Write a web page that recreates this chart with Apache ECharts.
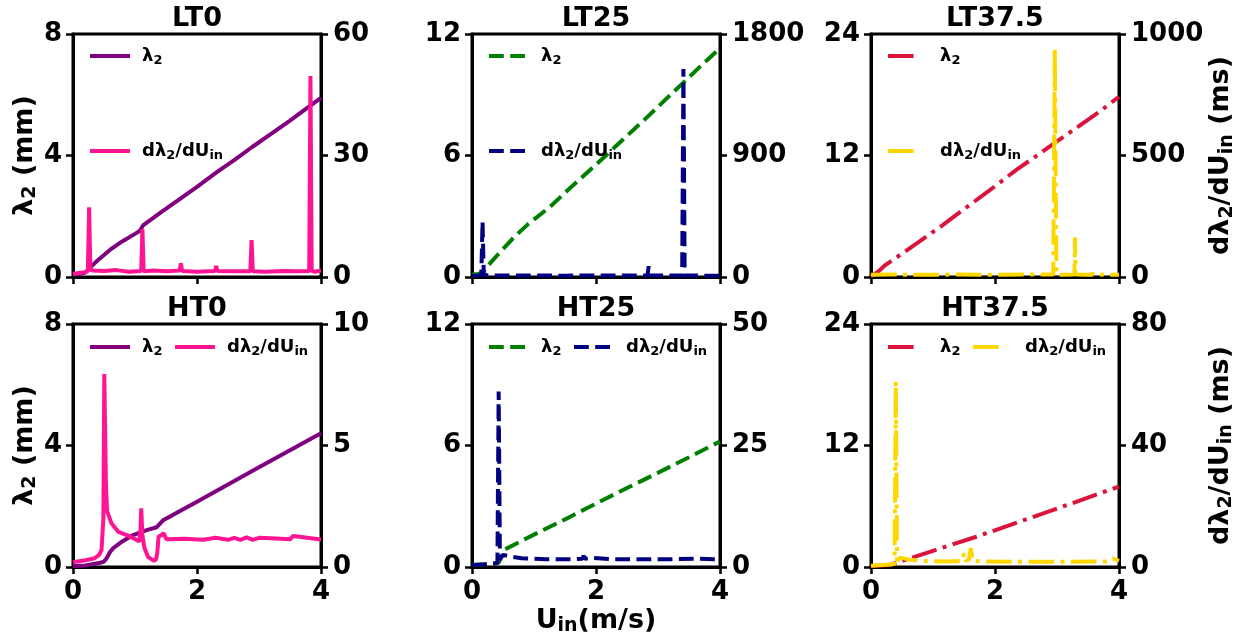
<!DOCTYPE html>
<html>
<head>
<meta charset="utf-8">
<script src="https://cdn.jsdelivr.net/npm/echarts@6/dist/echarts.min.js"></script>
<style>
html,body{margin:0;padding:0;background:#fff;}
#main{width:1247px;height:641px;}
</style>
</head>
<body>
<div id="main"></div>
<script>
// ---------------- DATA ----------------
const panelTitles = ['LT0', 'LT25', 'LT37.5', 'HT0', 'HT25', 'HT37.5'];
const xTicks = [0, 2, 4];
const leftMax = [8, 12, 24, 8, 12, 24];
const rightMax = [60, 1800, 1000, 10, 50, 80];

// LT0
const lt0LamX = [0, 0.1, 0.2, 0.27, 0.4, 0.6, 0.8, 1.0, 1.08, 1.13, 1.4, 1.76, 2.0, 2.32, 2.6, 2.89, 3.2, 3.5, 3.8, 4.0];
const lt0LamY = [0.08, 0.1, 0.15, 0.3, 0.55, 0.9, 1.18, 1.42, 1.52, 1.7, 2.1, 2.62, 2.97, 3.45, 3.85, 4.28, 4.72, 5.15, 5.6, 5.9];
const lt0DerX = [0, 0.1, 0.2, 0.24, 0.26, 0.28, 0.32, 0.5, 0.7, 0.9, 1.1, 1.12, 1.14, 1.3, 1.5, 1.72, 1.74, 1.76, 2.0, 2.29, 2.31, 2.33, 2.6, 2.86, 2.88, 2.9, 3.1, 3.4, 3.6, 3.81, 3.83, 3.85, 3.9, 4.0];
const lt0DerY = [0.8, 1.0, 1.2, 1.5, 17.2, 1.8, 1.6, 1.5, 1.7, 1.3, 1.5, 11.8, 1.4, 1.6, 1.4, 1.6, 3.4, 1.5, 1.3, 1.5, 2.7, 1.5, 1.4, 1.4, 9.1, 1.4, 1.3, 1.5, 1.4, 1.5, 49.6, 1.5, 1.3, 1.6];

// LT25
const lt25LamX = [0, 0.1, 0.17, 0.24, 0.4, 0.66, 0.9, 1.26, 1.6, 2.0, 2.44, 2.8, 3.1, 3.41, 3.7, 4.0];
const lt25LamY = [0.12, 0.15, 0.2, 0.5, 1.05, 1.91, 2.6, 3.47, 4.45, 5.55, 6.8, 7.82, 8.7, 9.6, 10.45, 11.3];
const lt25DerX = [0, 0.1, 0.15, 0.17, 0.19, 0.3, 0.8, 1.5, 2.2, 2.83, 2.85, 2.87, 3.1, 3.39, 3.41, 3.43, 3.7, 4.0];
const lt25DerY = [10, 12, 14, 410, 14, 12, 11, 10, 11, 12, 80, 12, 11, 11, 1540, 11, 10, 10];

// LT37.5
const lt375LamX = [0, 0.05, 0.12, 0.23, 0.5, 0.8, 1.14, 1.5, 1.9, 2.36, 2.7, 3.0, 3.33, 3.7, 4.0];
const lt375LamY = [0.1, 0.25, 0.55, 1.18, 2.3, 3.6, 5.05, 6.7, 8.5, 10.65, 12.1, 13.4, 14.8, 16.4, 17.8];
const lt375DerX = [0, 0.3, 0.8, 1.4, 2.0, 2.5, 2.94, 2.965, 2.99, 3.1, 3.28, 3.29, 3.3, 3.45, 3.56, 3.57, 3.58, 3.8, 4.0];
const lt375DerY = [9, 10, 9, 10, 9, 10, 10, 937, 10, 9, 10, 163, 10, 9, 9, 18, 9, 10, 9];

// HT0
const ht0LamX = [0, 0.2, 0.44, 0.5, 0.53, 0.6, 0.65, 0.8, 0.97, 1.1, 1.2, 1.35, 1.4, 1.46, 1.6, 2.0, 2.5, 3.0, 3.5, 4.0];
const ht0LamY = [0.03, 0.05, 0.14, 0.18, 0.25, 0.5, 0.62, 0.85, 1.05, 1.15, 1.22, 1.31, 1.42, 1.55, 1.7, 2.15, 2.72, 3.28, 3.84, 4.4];
const ht0DerX = [0, 0.2, 0.35, 0.42, 0.46, 0.49, 0.505, 0.53, 0.55, 0.58, 0.62, 0.73, 0.89, 1.03, 1.07, 1.09, 1.1, 1.12, 1.15, 1.21, 1.3, 1.34, 1.36, 1.38, 1.42, 1.46, 1.51, 1.8, 2.1, 2.3, 2.5, 2.6, 2.7, 2.8, 2.9, 3.0, 3.2, 3.5, 3.55, 4.0];
const ht0DerY = [0.2, 0.28, 0.36, 0.5, 0.7, 2.0, 7.94, 3.5, 2.3, 2.35, 1.8, 1.45, 1.29, 1.11, 1.05, 1.6, 2.41, 1.3, 0.8, 0.42, 0.26, 0.3, 0.6, 1.25, 1.3, 1.39, 1.14, 1.16, 1.12, 1.2, 1.12, 1.2, 1.12, 1.22, 1.12, 1.2, 1.18, 1.14, 1.28, 1.13];

// HT25
const ht25LamX = [0, 0.3, 0.43, 0.51, 1.0, 1.5, 1.85, 2.5, 3.0, 3.5, 4.0];
const ht25LamY = [0.1, 0.15, 0.21, 0.84, 1.6, 2.35, 2.9, 3.9, 4.65, 5.42, 6.2];
const ht25DerX = [0, 0.3, 0.41, 0.43, 0.45, 0.5, 0.53, 0.6, 0.8, 1.2, 1.6, 1.78, 1.8, 1.82, 1.9, 2.3, 2.8, 3.2, 3.6, 3.9, 4.0];
const ht25DerY = [0.4, 0.6, 0.8, 36.1, 1.5, 2.5, 2.8, 2.2, 1.8, 1.6, 1.6, 1.7, 2.3, 1.7, 1.9, 1.6, 1.6, 1.6, 1.7, 1.6, 1.6];

// HT37.5
const ht375LamX = [0, 0.3, 0.42, 1.0, 1.7, 2.5, 3.2, 4.0];
const ht375LamY = [0.1, 0.2, 0.43, 1.6, 2.99, 4.7, 6.2, 7.95];
const ht375DerX = [0, 0.3, 0.38, 0.4, 0.42, 0.47, 0.6, 0.8, 1.2, 1.47, 1.5, 1.53, 1.58, 1.61, 1.64, 1.8, 2.5, 3.2, 3.8, 3.9, 4.0];
const ht375DerY = [0.4, 0.8, 1.0, 61, 2.0, 3.1, 2.5, 2.0, 1.8, 2.0, 4.5, 2.0, 2.5, 6.2, 2.0, 1.8, 1.7, 1.7, 1.8, 2.8, 2.0];

// ---------------- STYLE / BUILD ----------------
const F = 'DejaVu Sans';
const lamColors = ['#800080', '#008000', '#DC143C', '#800080', '#008000', '#DC143C'];
const derColors = ['#FF1493', '#000080', '#FFD700', '#FF1493', '#000080', '#FFD700'];
const DASH = [14.8, 6.4];
const DASHDOT = [25.6, 6.4, 4, 6.4];
const styles = ['solid', DASH, DASHDOT, 'solid', DASH, DASHDOT];

const lamX = [lt0LamX, lt25LamX, lt375LamX, ht0LamX, ht25LamX, ht375LamX];
const lamY = [lt0LamY, lt25LamY, lt375LamY, ht0LamY, ht25LamY, ht375LamY];
const derX = [lt0DerX, lt25DerX, lt375DerX, ht0DerX, ht25DerX, ht375DerX];
const derY = [lt0DerY, lt25DerY, lt375DerY, ht0DerY, ht25DerY, ht375DerY];

const gridLefts = [73, 472, 871];
const gridTops = [34, 324];
const GW = 248, GH = 243;

const tickFont = {fontSize: 26, fontWeight: 'bold', fontFamily: F, color: '#000'};
const zip = (xs, ys) => xs.map((x, i) => [x, ys[i]]);
const nameRich = {
  m: {fontSize: 27, fontWeight: 'bold', fontFamily: F, color: '#000'},
  s: {fontSize: 19, fontWeight: 'bold', fontFamily: F, color: '#000', padding: [12, 0, 0, 0]}
};

const grid = [], xAxis = [], yAxis = [], series = [], title = [], legend = [];
const legendText = {};

const legRich = {
  a: {fontSize: 18, fontWeight: 'bold', fontFamily: F, color: '#000'},
  s: {fontSize: 13, fontWeight: 'bold', fontFamily: F, color: '#000', padding: [9, 0, 0, 0]}
};
function richFor(pad) {
  return Object.assign({}, legRich, {
    a0: {fontSize: 18, fontWeight: 'bold', fontFamily: F, color: '#000', padding: [0, 0, 0, pad]}
  });
}

for (let i = 0; i < 6; i++) {
  const row = Math.floor(i / 3), col = i % 3;
  const left = gridLefts[col], top = gridTops[row];
  grid.push({left: left, top: top, width: GW, height: GH, show: true, borderColor: '#000', borderWidth: 3, backgroundColor: 'transparent'});
  const xa = {
    gridIndex: i, type: 'value', min: 0, max: 4, interval: 2,
    axisLine: {show: true, onZero: false, lineStyle: {color: '#000', width: 3}},
    axisTick: {show: true, length: 7, lineStyle: {color: '#000', width: 2.5}},
    axisLabel: Object.assign({show: row === 1, margin: 12, showMinLabel: true, showMaxLabel: true, formatter: (v) => String(v)}, tickFont),
    splitLine: {show: false}
  };
  if (i === 4) {
    xa.name = '{m|U}{s|in}{m|(m/s)}';
    xa.nameLocation = 'middle';
    xa.nameGap = 38;
    xa.nameTextStyle = {rich: nameRich};
  }
  xAxis.push(xa);
  const yl = {
    gridIndex: i, type: 'value', position: 'left', min: 0, max: leftMax[i], interval: leftMax[i] / 2,
    axisLine: {show: true, onZero: false, lineStyle: {color: '#000', width: 3}},
    axisTick: {show: true, length: 7, lineStyle: {color: '#000', width: 2.5}},
    axisLabel: Object.assign({margin: 11, showMinLabel: true, showMaxLabel: true, formatter: (v) => String(v)}, tickFont),
    splitLine: {show: false}
  };
  if (col === 0) {
    yl.name = '{m|λ}{s|2}{m| (mm)}';
    yl.nameLocation = 'middle';
    yl.nameRotate = 90;
    yl.nameGap = 33;
    yl.nameTextStyle = {rich: nameRich};
  }
  const yr = {
    gridIndex: i, type: 'value', position: 'right', min: 0, max: rightMax[i], interval: rightMax[i] / 2,
    axisLine: {show: true, onZero: false, lineStyle: {color: '#000', width: 3}},
    axisTick: {show: true, length: 7, lineStyle: {color: '#000', width: 2.5}},
    axisLabel: Object.assign({margin: 12, showMinLabel: true, showMaxLabel: true, formatter: (v) => String(v)}, tickFont),
    splitLine: {show: false}
  };
  if (col === 2) {
    yr.name = '{m|dλ}{s|2}{m|/dU}{s|in}{m| (ms)}';
    yr.nameLocation = 'middle';
    yr.nameRotate = 90;
    yr.nameGap = 86;
    yr.nameTextStyle = {rich: nameRich};
  }
  yAxis.push(yl, yr);

  const nLam = panelTitles[i] + ' lam';
  const nDer = panelTitles[i] + ' der';
  legendText[nLam] = '{a0|λ}{s|2}';
  legendText[nDer] = '{a0|dλ}{s|2}{a|/dU}{s|in}';
  series.push({
    name: nLam, type: 'line', xAxisIndex: i, yAxisIndex: 2 * i,
    data: zip(lamX[i], lamY[i]), symbol: 'none', showSymbol: false,
    lineStyle: {color: lamColors[i], width: 4, type: styles[i]}, itemStyle: {color: lamColors[i]},
    animation: false
  });
  series.push({
    name: nDer, type: 'line', xAxisIndex: i, yAxisIndex: 2 * i + 1,
    data: zip(derX[i], derY[i]), symbol: 'none', showSymbol: false,
    lineStyle: {color: derColors[i], width: 4, type: styles[i]}, itemStyle: {color: derColors[i]},
    animation: false
  });

  title.push({
    text: panelTitles[i], left: left + GW / 2, top: top - 29, textAlign: 'center', padding: 0,
    textStyle: {fontSize: 27, fontWeight: 'bold', fontFamily: F, color: '#000'}
  });

  const iw = (styles[i] === DASHDOT) ? 28 : 40;
  const pad = 52 - iw - 5;
  const legBase = {
    orient: 'horizontal', itemWidth: iw, itemHeight: 14, padding: 0, selectedMode: false,
    formatter: (n) => legendText[n],
    itemStyle: {opacity: 0, borderWidth: 0},
    lineStyle: {width: 4, type: styles[i]},
    textStyle: {fontSize: 18, fontWeight: 'bold', fontFamily: F, color: '#000', rich: richFor(pad)}
  };
  const lx = left + 15;
  if (row === 0) {
    legend.push(Object.assign({}, legBase, {data: [nLam], left: lx, top: 58 - 11}));
    legend.push(Object.assign({}, legBase, {data: [nDer], left: lx, top: 153 - 11}));
  } else {
    legend.push(Object.assign({}, legBase, {data: [nLam], left: lx, top: 349 - 11}));
    legend.push(Object.assign({}, legBase, {data: [nDer], left: lx + 85, top: 349 - 11}));
  }
}

const chart = echarts.init(document.getElementById('main'), null, {renderer: 'canvas'});
chart.setOption({
  backgroundColor: '#fff',
  animation: false,
  title: title,
  legend: legend,
  grid: grid,
  xAxis: xAxis,
  yAxis: yAxis,
  series: series
});
</script>
</body>
</html>
